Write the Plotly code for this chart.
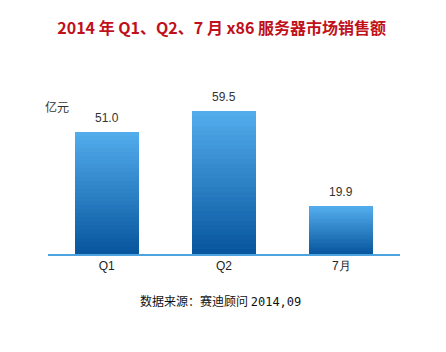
import plotly.graph_objects as go

categories = ["Q1", "Q2", "7月"]
values = [51.0, 59.5, 19.9]
value_labels = ["51.0", "59.5", "19.9"]
title_text = "2014 年 Q1、Q2、7 月 x86 服务器市场销售额"
unit_text = "亿元"
source_cn = "数据来源：赛迪顾问"
source_date = "2014,09"

N = 30
top_rgb = (82, 172, 236)
bot_rgb = (8, 86, 158)

fig = go.Figure()
for k in range(N):
    t = k / (N - 1)
    c = tuple(round(bot_rgb[i] + (top_rgb[i] - bot_rgb[i]) * t) for i in range(3))
    fig.add_trace(go.Bar(
        x=categories,
        y=[v / N for v in values],
        marker=dict(color="rgb(%d,%d,%d)" % c, line=dict(width=0)),
        hoverinfo="skip",
        showlegend=False,
    ))

for cat, v, lab in zip(categories, values, value_labels):
    fig.add_annotation(x=cat, y=v, text=lab, showarrow=False, yshift=14,
                       font=dict(family="Liberation Sans, Arial", size=12, color="#333333"))

fig.add_annotation(xref="paper", yref="paper", x=-0.015, y=1.06, text=unit_text,
                   showarrow=False, xanchor="left",
                   font=dict(family="Noto Sans CJK SC", size=12, color="#333333"))

fig.add_annotation(xref="paper", yref="paper", x=0.49, y=-0.38,
                   text=source_cn + " <span style=\"font-family:'DejaVu Sans Mono'\">" + source_date + "</span>",
                   showarrow=False,
                   font=dict(family="Noto Sans CJK SC", size=12, color="#111111"))

fig.update_layout(
    width=446, height=352,
    margin=dict(l=48, r=46, t=105, b=98),
    paper_bgcolor="white", plot_bgcolor="white",
    barmode="stack", bargap=0.455,
    title=dict(text="<b>" + title_text + "</b>", x=0.497, xanchor="center", y=0.92, yanchor="middle",
               font=dict(family="Noto Sans CJK SC", size=16, color="#c0101a")),
    xaxis=dict(showgrid=False, showline=True, linecolor="#4da3e0", linewidth=2,
               ticks="", tickfont=dict(family="Liberation Sans, Arial", size=12, color="#222222"),
               range=[-0.5, 2.5], fixedrange=True),
    yaxis=dict(range=[0, 62.1], showgrid=False, showticklabels=False, zeroline=False,
               showline=False, fixedrange=True),
)

fig.write_html("out.html")
